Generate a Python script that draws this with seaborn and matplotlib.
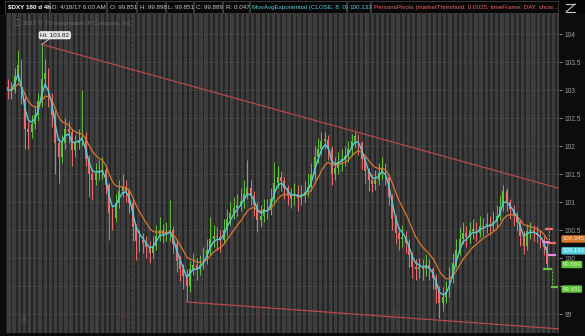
import numpy as np
import pandas as pd
import matplotlib
matplotlib.use("Agg")
import matplotlib.pyplot as plt
import matplotlib.transforms as mtransforms
from matplotlib.patches import Rectangle
import seaborn as sns

# ---------------- data ----------------
first_open = 103.05
close = [103.00, 103.00, 103.25, 103.45, 102.85, 102.30, 102.25, 102.40, 102.55, 102.80,
         103.20, 103.30, 102.85, 102.55, 102.05, 101.80, 102.05, 102.30, 102.25, 101.93,
         102.06, 102.12, 102.17, 101.78, 101.50, 101.40, 101.52, 101.55, 101.57, 101.30,
         100.80, 100.72, 100.98, 101.20, 101.27, 101.20, 100.98, 100.55, 100.30, 100.32,
         100.27, 100.20, 100.10, 100.22, 100.40, 100.50, 100.43, 100.45, 100.50, 100.25,
         99.95, 99.80, 99.68, 99.50, 99.80, 99.88, 99.80, 99.88, 100.00, 100.15,
         100.35, 100.40, 100.38, 100.33, 100.50, 100.70, 100.80, 100.90, 100.96, 101.02,
         101.15, 101.25, 101.12, 100.95, 100.68, 100.75, 100.88, 100.86, 101.05, 101.35,
         101.45, 101.38, 101.25, 101.12, 101.05, 101.15, 101.08, 101.12, 101.18, 101.28,
         101.50, 101.80, 101.95, 102.10, 102.12, 101.95, 101.50, 101.62, 101.72, 101.78,
         101.82, 101.95, 102.10, 102.18, 102.05, 101.78, 101.55, 101.40, 101.32, 101.40,
         101.52, 101.62, 101.45, 101.10, 100.70, 100.45, 100.35, 100.38, 100.28, 100.05,
         99.85, 99.80, 99.85, 99.80, 99.88, 99.80, 99.65, 99.45, 99.20, 99.30,
         99.40, 99.65, 99.92, 100.15, 100.35, 100.45, 100.38, 100.48, 100.52, 100.45,
         100.58, 100.55, 100.62, 100.58, 100.65, 100.75, 100.92, 101.20, 101.00, 100.88,
         100.75, 100.65, 100.40, 100.22, 100.48, 100.50, 100.45, 100.42, 100.32, 100.20,
         99.89]
high = [103.20, 103.15, 103.40, 103.72, 103.55, 102.95, 102.45, 102.55, 102.70, 102.95,
        103.82, 103.55, 103.40, 102.95, 102.65, 102.15, 102.20, 102.50, 102.45, 102.30,
        102.20, 102.30, 103.00, 102.25, 101.85, 101.60, 101.70, 101.75, 101.80, 101.65,
        101.35, 100.90, 101.15, 101.40, 101.50, 101.40, 101.25, 101.05, 100.62, 100.50,
        100.45, 100.40, 100.30, 100.40, 100.60, 100.73, 100.62, 100.65, 101.04, 100.58,
        100.30, 100.05, 99.90, 99.80, 99.95, 100.10, 100.00, 100.05, 100.20, 100.35,
        100.74, 100.60, 100.55, 100.50, 100.70, 100.88, 101.00, 101.10, 101.15, 101.25,
        101.40, 101.76, 101.40, 101.20, 101.00, 100.95, 101.05, 101.05, 101.25, 101.72,
        101.65, 101.55, 101.45, 101.30, 101.25, 101.35, 101.30, 101.30, 101.38, 101.50,
        101.70, 102.00, 102.15, 102.25, 102.26, 102.20, 102.00, 101.80, 101.90, 101.95,
        102.00, 102.10, 102.22, 102.27, 102.22, 102.10, 101.85, 101.62, 101.50, 101.58,
        101.70, 101.80, 101.70, 101.50, 101.15, 100.78, 100.55, 100.60, 100.48, 100.35,
        100.12, 99.98, 100.00, 99.98, 100.08, 99.98, 99.85, 99.72, 99.50, 99.48,
        99.60, 99.85, 100.10, 100.35, 100.55, 100.65, 100.58, 100.65, 100.70, 100.65,
        100.75, 100.72, 100.80, 100.75, 100.85, 100.95, 101.12, 101.31, 101.25, 101.05,
        100.95, 100.82, 100.70, 100.48, 100.62, 100.65, 100.60, 100.58, 100.50, 100.40,
        100.25]
low = [102.85, 102.85, 102.95, 103.15, 102.75, 101.95, 101.95, 102.15, 102.30, 102.45,
       102.70, 103.05, 102.70, 102.35, 101.50, 101.35, 101.70, 101.95, 102.05, 101.65,
       101.80, 101.95, 102.00, 101.65, 101.10, 101.04, 101.30, 101.40, 101.42, 101.15,
       100.32, 100.50, 100.65, 100.90, 101.10, 101.00, 100.80, 100.30, 99.97, 100.12,
       100.10, 100.00, 99.92, 100.00, 100.15, 100.30, 100.28, 100.30, 100.30, 100.10,
       99.75, 99.60, 99.45, 99.22, 99.40, 99.70, 99.62, 99.70, 99.80, 99.90,
       100.05, 100.20, 100.15, 100.12, 100.25, 100.40, 100.60, 100.70, 100.75, 100.85,
       100.90, 101.05, 100.95, 100.75, 100.47, 100.55, 100.65, 100.70, 100.78, 100.95,
       101.25, 101.20, 101.05, 100.95, 100.90, 100.95, 100.85, 100.95, 101.00, 101.10,
       101.20, 101.40, 101.70, 101.85, 101.95, 101.75, 101.30, 101.40, 101.50, 101.55,
       101.65, 101.72, 101.85, 101.98, 101.85, 101.60, 101.35, 101.20, 101.18, 101.22,
       101.30, 101.42, 101.30, 100.95, 100.50, 100.25, 100.15, 100.20, 100.10, 99.85,
       99.65, 99.62, 99.65, 99.62, 99.68, 99.62, 99.45, 99.20, 98.93, 99.05,
       99.20, 99.30, 99.55, 99.85, 100.05, 100.25, 100.20, 100.28, 100.35, 100.30,
       100.38, 100.40, 100.45, 100.42, 100.48, 100.55, 100.68, 100.85, 100.85, 100.70,
       100.58, 100.48, 100.22, 100.08, 100.15, 100.35, 100.30, 100.28, 100.18, 100.05,
       99.80]

ytick_values = [99, 99.5, 100, 100.5, 101, 101.5, 102, 102.5, 103, 103.5, 104]
# the 99.5 label is hidden behind the 99.451 bubble in the reference
ytick_labels = ["99", "", "100", "100.5", "101", "101.5", "102", "102.5", "103", "103.5", "104"]

hi_label = "Hi: 103.82"
hi_bar, hi_value = 10, 103.82
upper_trend_x, upper_trend_y = [10, 163.5], [103.82, 101.25]
lower_trend_x, lower_trend_y = [53, 163.5], [99.22, 98.74]

week_marks = [6.2, 16.0, 26.1, 46.3, 56.1, 65.9, 85.7, 95.8, 105.9, 126.1, 136.2, 146.3, 156.4]
month_marks = [36.5, 75.7, 116.0]
month_texts = ["2017", "Feb", "Mar"]

pivot_red = [100.53, 100.27]
pivot_pink = [100.29, 100.06]
pivot_green = [99.81, 99.49]

value_label_texts = ["100.345", "100.133", "99.889", "99.451"]
value_label_levels = [100.345, 100.133, 99.889, 99.451]

header_texts = ["$DXY 180 d 4h", "D: 4/18/17 6:00 AM", "O: 99.851", "H: 99.898", "L: 99.851",
                "C: 99.889", "R: 0.047", "MovAvgExponential (CLOSE, 8, 0)", "100.133",
                "PersonsPivots (marketThreshold: 0.0025, timeFrame: DAY, show..."]
copyright_text = "2017 \u00a9 TD Ameritrade IP Company, Inc."

# ---------------- styling ----------------
W, H = 585, 336
sns.set_theme(style="dark")
plt.rcParams["font.family"] = ["Liberation Sans", "DejaVu Sans"]

UP = "#62c23a"
DOWN = "#ee6c6c"
CYAN = "#55ccdc"
ORANGE = "#d8782c"
TREND = "#b8474a"
PINK = "#e48ae6"

fig = plt.figure(figsize=(W / 100, H / 100), dpi=100, facecolor="#0c0c0c")

ax = fig.add_axes([6 / W, 3 / H, 553 / W, 319 / H])
ax.set_facecolor("#3d3d3d")

n = len(close)
idx = np.arange(n)
opens = np.array([first_open] + close[:-1])
cl = np.array(close)
hi = np.maximum(np.array(high), np.maximum(opens, cl))
lo = np.minimum(np.array(low), np.minimum(opens, cl))

x_left, x_right = -0.593, 163.5
y_bot, y_top = 98.666, 104.3625

# background day stripes
period, dark_w = 1.54, 0.56
s = x_left - 0.2
while s < x_right:
    ax.axvspan(s, s + dark_w, color="#252525", lw=0, zorder=0)
    s += period

# grid
for v in ytick_values:
    ax.axhline(v, color="#5e5e5e", lw=0.6, ls=(0, (1, 2)), zorder=1)
for m in week_marks:
    ax.axvline(m, color="#5a5a5a", lw=0.6, ls=(0, (1, 2)), zorder=1)
for m, t in zip(month_marks, month_texts):
    ax.axvline(m, color="#7a2c2c", lw=0.7, ls=(0, (3, 2)), zorder=1)
    ax.text(m - 1.2, 99.05, t, rotation=90, color="#6a3434", fontsize=4, ha="center",
            va="center", zorder=1)
ax.text(5.0, 98.95, "Dec", rotation=90, color="#5a5a5a", fontsize=4, ha="center",
        va="center", zorder=1)

# candles
cols = [UP if c >= o else DOWN for o, c in zip(opens, cl)]
ax.vlines(idx, lo, hi, colors=cols, lw=0.7, zorder=3)
body_bottom = np.minimum(opens, cl)
body_h = np.maximum(np.abs(cl - opens), 0.025)
ax.bar(idx, body_h, bottom=body_bottom, width=0.55, color=cols, lw=0, zorder=3)

# moving averages
df = pd.DataFrame({"bar": idx, "close": cl})
df["ema_fast"] = df["close"].ewm(span=3, adjust=False).mean()
df["ema_slow"] = df["close"].ewm(span=10, adjust=False).mean()
sns.lineplot(data=df, x="bar", y="ema_slow", color=ORANGE, lw=0.9, ax=ax, legend=False, zorder=4)
sns.lineplot(data=df, x="bar", y="ema_fast", color=CYAN, lw=1.0, ax=ax, legend=False, zorder=5)

# trend lines
ax.plot(upper_trend_x, upper_trend_y, color=TREND, lw=0.9, zorder=6)
ax.plot(lower_trend_x, lower_trend_y, color=TREND, lw=0.9, zorder=6)

# pivot markers
px0, px1 = 158.9, 162.6
ax.hlines(pivot_red[0], px0 + 0.3, px1 - 1.0, color=DOWN, lw=1.6, zorder=7)
ax.hlines(pivot_red[1], px0 + 0.6, px1, color=DOWN, lw=1.6, zorder=7)
ax.vlines(px0 + 1.6, pivot_red[1], pivot_red[0], color=DOWN, lw=0.7, ls=(0, (2, 1.5)), zorder=7)
ax.hlines(pivot_pink[0], px0 - 0.3, px0 + 2.0, color=PINK, lw=1.6, zorder=8)
ax.hlines(pivot_pink[1], px0 + 1.4, px1, color=PINK, lw=1.6, zorder=8)
ax.hlines(pivot_green[0], px0, px0 + 2.4, color=UP, lw=1.6, zorder=7)
ax.hlines(pivot_green[1], px0 + 2.1, px1 + 0.5, color=UP, lw=1.6, zorder=7)
ax.vlines(px0 + 2.4, pivot_green[1], pivot_green[0], color=UP, lw=0.7, ls=(0, (2, 1.5)), zorder=7)

# Hi label
ax.annotate(hi_label, xy=(hi_bar, hi_value), xytext=(-1.0, 6.6), textcoords="offset points",
            ha="left", va="center", fontsize=4.6, color="#1a1a1a",
            bbox=dict(boxstyle="round,pad=0.25,rounding_size=0.3", fc="#e6e6e6", ec="none"),
            arrowprops=dict(arrowstyle="-", color="#d0d0d0", lw=0.6, shrinkA=0, shrinkB=0),
            zorder=9)

ax.set_xlim(x_left, x_right)
ax.set_ylim(y_bot, y_top)
ax.set_xlabel("")
ax.set_ylabel("")
ax.set_xticks([])
ax.yaxis.tick_right()
ax.set_yticks(ytick_values)
ax.set_yticklabels(ytick_labels)
ax.tick_params(axis="y", colors="#9c9c9c", labelsize=4.8, length=2.5, width=0.6, pad=1.5,
               right=True, left=False)
for sp in ax.spines.values():
    sp.set_visible(False)

# right-hand value bubbles
bubble_styles = [(ORANGE, "#ffd6ae"), (CYAN, "#e4fbff"), (UP, "#d4f5c0"), (UP, "#d4f5c0")]
trans = mtransforms.blended_transform_factory(ax.transAxes, ax.transData)
for t, v, (fc, tc) in zip(value_label_texts, value_label_levels, bubble_styles):
    ax.text(1.0065, v, t, transform=trans, ha="left", va="center", fontsize=4.3, color=tc,
            clip_on=False, zorder=10,
            bbox=dict(boxstyle="round,pad=0.2,rounding_size=0.2", fc=fc, ec="none"))

# copyright line
ax.text(0.0135, 0.972, "\u24d8", transform=ax.transAxes, fontsize=5, color="#6a6a6a",
        ha="left", va="center", family=["Noto Sans CJK JP", "DejaVu Sans"])
ax.text(0.03, 0.972, copyright_text, transform=ax.transAxes, fontsize=4.4, color="#6a6a6a",
        ha="left", va="center")

# header bar
hax = fig.add_axes([0, 1 - 14 / H, 1, 14 / H])
hax.set_xlim(0, W)
hax.set_ylim(14, 0)
hax.axis("off")
hax.add_patch(Rectangle((0, 0), W, 14, fc="#060606", ec="none"))
cells = [(5, 49), (50, 106), (107, 136), (137, 165), (166, 193), (194, 222), (223, 249),
         (250, 346), (347, 370), (371, 558)]
text_cols = ["#ffffff", "#c8c8c8", "#c8c8c8", "#c8c8c8", "#c8c8c8", "#c8c8c8", "#c8c8c8",
             CYAN, CYAN, "#e86464"]
for (a, b), t, c in zip(cells, header_texts, text_cols):
    hax.add_patch(Rectangle((a, 1.2), b - a, 11.6, fc="#080808", ec="#3a3a3a", lw=0.7))
    hax.text(a + 2.5, 7.2, t, fontsize=4.5, color=c, ha="left", va="center",
             fontweight="bold" if t.startswith("$") else "normal")
hax.plot([566, 575], [12, 4], color="#c8c8c8", lw=0.8)
hax.plot([566, 575], [4, 4], color="#c8c8c8", lw=0.8)
hax.plot([566, 575], [12, 12], color="#c8c8c8", lw=0.8)

fig.savefig("out.png", dpi=100, facecolor=fig.get_facecolor())
